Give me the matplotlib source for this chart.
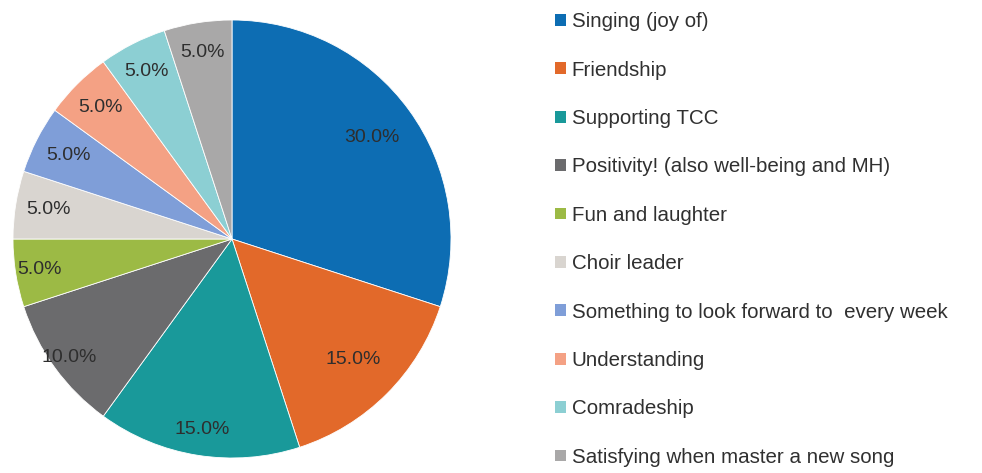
import matplotlib
matplotlib.use("Agg")
import matplotlib.pyplot as plt
from matplotlib.patches import Patch
import numpy as np

plt.rcParams['font.family'] = ['Liberation Sans', 'DejaVu Sans']

categories = ["Singing (joy of)", "Friendship", "Supporting TCC",
              "Positivity! (also well-being and MH)", "Fun and laughter",
              "Choir leader", "Something to look forward to  every week",
              "Understanding", "Comradeship", "Satisfying when master a new song"]
values = [30.0, 15.0, 15.0, 10.0, 5.0, 5.0, 5.0, 5.0, 5.0, 5.0]
colors = ["#0d6db3", "#e2692a", "#19999a", "#6b6b6d", "#9cba45",
          "#d9d5d0", "#7f9ed8", "#f4a184", "#8ccfd3", "#a9a8a8"]
label_dist = [0.79, 0.78, 0.88, 0.92, 0.89, 0.85, 0.84, 0.85, 0.86, 0.86]

W, H = 982, 473
fig = plt.figure(figsize=(W/100, H/100), dpi=100)
cx, cy, r = 232, 239, 219
ax = fig.add_axes([(cx - r)/W, (H - cy - r)/H, 2*r/W, 2*r/H])
wedges, texts, autotexts = ax.pie(values, colors=colors, startangle=90, counterclock=False,
                                  autopct='%1.1f%%', pctdistance=0.8,
                                  wedgeprops=dict(edgecolor='white', linewidth=0.6),
                                  textprops=dict(fontsize=14, color='#2e2e2e'))
for w, t, d in zip(wedges, autotexts, label_dist):
    ang = np.deg2rad((w.theta1 + w.theta2) / 2)
    t.set_position((d*np.cos(ang), d*np.sin(ang)))
ax.set_xlim(-1, 1)
ax.set_ylim(-1, 1)
ax.set_aspect('equal')
ax.axis('off')

handles = [Patch(facecolor=c, edgecolor='none') for c in colors]
fig.legend(handles, categories, loc='upper left', bbox_to_anchor=(547/W, 1 - 4/H),
           frameon=False, fontsize=14.8, handlelength=0.5, handleheight=0.5,
           handletextpad=0.3, labelspacing=1.43, labelcolor='#303030', borderaxespad=0)

fig.savefig("out.png", dpi=100)
